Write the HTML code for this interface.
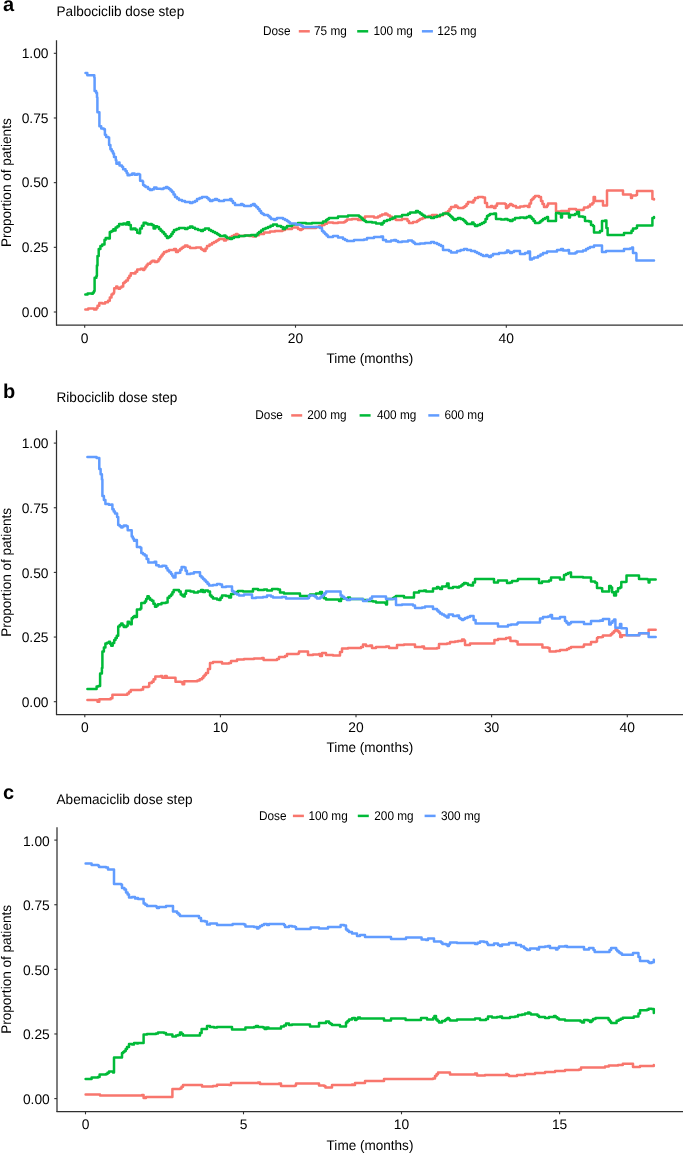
<!DOCTYPE html>
<html><head><meta charset="utf-8"><style>
html,body{margin:0;padding:0;background:#fff;width:685px;height:1153px;overflow:hidden}
svg{display:block;will-change:transform}
text{font-family:"Liberation Sans", sans-serif;fill:#000;text-rendering:geometricPrecision}
</style></head><body>
<svg width="685" height="1153" viewBox="0 0 685 1153">
<rect width="685" height="1153" fill="#fff"/>
<text x="3" y="11.2" font-size="20" font-weight="bold">a</text>
<text transform="translate(56.5,16.0) scale(1,1.03)" font-size="13.6">Palbociclib dose step</text>
<text transform="translate(263.00,34.90) scale(1,1.07)" font-size="11.8">Dose</text>
<line x1="298.8" x2="309.8" y1="31.3" y2="31.3" stroke="#F8766D" stroke-width="2.5"/>
<text transform="translate(314.00,35.10) scale(1,1.07)" font-size="11.8">75 mg</text>
<line x1="357.2" x2="368.2" y1="31.3" y2="31.3" stroke="#00BA38" stroke-width="2.5"/>
<text transform="translate(373.50,35.10) scale(1,1.07)" font-size="11.8">100 mg</text>
<line x1="421.9" x2="432.9" y1="31.3" y2="31.3" stroke="#619CFF" stroke-width="2.5"/>
<text transform="translate(437.30,35.10) scale(1,1.07)" font-size="11.8">125 mg</text>
<line x1="56.5" x2="56.5" y1="40.3" y2="325.5" stroke="#303030" stroke-width="1.25"/>
<line x1="56.0" x2="683.0" y1="325.0" y2="325.0" stroke="#303030" stroke-width="1.25"/>
<line x1="53.8" x2="56.5" y1="312.00" y2="312.00" stroke="#303030" stroke-width="1.1"/>
<text x="48.50" y="316.80" font-size="13.8" text-anchor="end">0.00</text>
<line x1="53.8" x2="56.5" y1="247.32" y2="247.32" stroke="#303030" stroke-width="1.1"/>
<text x="48.50" y="252.12" font-size="13.8" text-anchor="end">0.25</text>
<line x1="53.8" x2="56.5" y1="182.65" y2="182.65" stroke="#303030" stroke-width="1.1"/>
<text x="48.50" y="187.45" font-size="13.8" text-anchor="end">0.50</text>
<line x1="53.8" x2="56.5" y1="117.98" y2="117.98" stroke="#303030" stroke-width="1.1"/>
<text x="48.50" y="122.78" font-size="13.8" text-anchor="end">0.75</text>
<line x1="53.8" x2="56.5" y1="53.30" y2="53.30" stroke="#303030" stroke-width="1.1"/>
<text x="48.50" y="58.10" font-size="13.8" text-anchor="end">1.00</text>
<line x1="84.7" x2="84.7" y1="325.0" y2="327.7" stroke="#303030" stroke-width="1.1"/>
<text x="84.7" y="343.1" font-size="13.8" text-anchor="middle">0</text>
<line x1="295.5" x2="295.5" y1="325.0" y2="327.7" stroke="#303030" stroke-width="1.1"/>
<text x="295.5" y="343.1" font-size="13.8" text-anchor="middle">20</text>
<line x1="506.3" x2="506.3" y1="325.0" y2="327.7" stroke="#303030" stroke-width="1.1"/>
<text x="506.3" y="343.1" font-size="13.8" text-anchor="middle">40</text>
<text transform="translate(369.8,362.9) scale(1,1.03)" font-size="13.55" text-anchor="middle">Time (months)</text>
<text transform="translate(10.9,182.7) rotate(-90) scale(1,1.03)" x="0" y="0" font-size="13.55" text-anchor="middle">Proportion of patients</text>
<polyline points="85.30,309.50 88.20,309.50 88.20,308.40 91.70,308.40 91.70,308.60 94.00,308.60 94.00,309.50 96.40,309.50 96.40,308.00 97.50,308.00 97.50,305.70 99.30,305.70 99.30,303.00 102.20,303.00 102.20,303.40 105.10,303.40 105.10,302.20 108.00,302.20 108.00,300.70 109.80,300.70 109.80,297.50 111.50,297.50 111.50,294.60 112.70,294.60 112.70,293.45 113.90,293.45 113.90,292.30 114.20,292.30 114.20,288.20 116.20,288.20 116.20,286.40 117.35,286.40 117.35,287.60 118.50,287.60 118.50,288.80 120.00,288.80 120.00,287.60 121.50,287.60 121.50,286.40 123.20,286.40 123.20,282.90 124.65,282.90 124.65,281.75 126.10,281.75 126.10,280.60 127.90,280.60 127.90,278.00 129.35,278.00 129.35,275.65 130.80,275.65 130.80,273.30 133.70,273.30 133.70,273.60 135.50,273.60 135.50,271.80 137.20,271.80 137.20,269.50 140.70,269.50 140.70,268.70 143.10,268.70 143.10,270.10 144.25,270.10 144.25,268.45 145.40,268.45 145.40,266.80 146.55,266.80 146.55,265.25 147.70,265.25 147.70,263.70 150.10,263.70 150.10,262.50 151.25,262.50 151.25,261.60 152.40,261.60 152.40,260.70 154.70,260.70 154.70,261.90 157.10,261.90 157.10,261.30 158.55,261.30 158.55,259.25 160.00,259.25 160.00,257.20 161.33,257.20 161.33,255.47 162.67,255.47 162.67,253.73 164.00,253.73 164.00,252.00 166.50,252.00 166.50,251.00 169.00,251.00 169.00,250.00 174.00,250.00 174.00,249.00 176.00,249.00 176.00,252.00 178.00,252.00 178.00,250.50 180.00,250.50 180.00,249.00 181.67,249.00 181.67,247.87 183.33,247.87 183.33,246.73 185.00,246.73 185.00,245.60 187.50,245.60 187.50,246.80 190.00,246.80 190.00,248.00 196.00,248.00 196.00,247.60 201.00,247.60 201.00,249.00 202.50,249.00 202.50,250.00 204.00,250.00 204.00,251.00 205.50,251.00 205.50,248.50 207.00,248.50 207.00,246.00 209.50,246.00 209.50,244.50 212.00,244.50 212.00,243.00 214.00,243.00 214.00,242.00 216.00,242.00 216.00,241.00 217.50,241.00 217.50,240.00 219.00,240.00 219.00,239.00 224.00,239.00 224.00,240.40 226.00,240.40 226.00,239.20 228.00,239.20 228.00,238.00 230.00,238.00 230.00,237.00 232.00,237.00 232.00,236.00 234.00,236.00 234.00,235.00 236.00,235.00 236.00,234.00 237.50,234.00 237.50,235.00 239.00,235.00 239.00,236.00 244.00,236.00 244.00,235.60 249.00,235.60 249.00,236.00 253.00,236.00 253.00,236.40 256.00,236.40 256.00,235.20 259.00,235.20 259.00,234.00 264.00,234.00 264.00,232.40 270.00,232.40 270.00,231.60 275.00,231.60 275.00,231.00 280.00,231.00 280.00,231.00 282.50,231.00 282.50,230.00 285.00,230.00 285.00,229.00 292.00,229.00 292.00,227.50 298.00,227.50 298.00,229.00 300.00,229.00 300.00,230.00 301.50,230.00 301.50,229.00 303.00,229.00 303.00,228.00 310.00,228.00 310.00,228.00 316.00,228.00 316.00,227.00 319.00,227.00 319.00,226.00 322.00,226.00 322.00,225.00 324.50,225.00 324.50,223.70 327.00,223.70 327.00,222.40 333.00,222.40 333.00,223.00 338.00,223.00 338.00,222.40 344.00,222.40 344.00,222.00 345.50,222.00 345.50,220.80 347.00,220.80 347.00,219.60 352.00,219.60 352.00,219.00 358.00,219.00 358.00,220.00 362.00,220.00 362.00,219.60 363.50,219.60 363.50,218.00 365.00,218.00 365.00,216.40 370.00,216.40 370.00,216.40 374.00,216.40 374.00,217.60 378.00,217.60 378.00,216.40 380.00,216.40 380.00,215.40 382.00,215.40 382.00,214.40 385.00,214.40 385.00,213.60 386.50,213.60 386.50,214.60 388.00,214.60 388.00,215.60 390.00,215.60 390.00,216.80 392.00,216.80 392.00,218.00 394.00,218.00 394.00,219.00 396.00,219.00 396.00,220.00 402.00,220.00 402.00,219.00 406.00,219.00 406.00,219.00 407.50,219.00 407.50,221.00 409.00,221.00 409.00,223.00 413.00,223.00 413.00,222.00 417.00,222.00 417.00,221.00 418.50,221.00 418.50,220.00 420.00,220.00 420.00,219.00 422.50,219.00 422.50,218.00 425.00,218.00 425.00,217.00 428.50,217.00 428.50,216.00 432.00,216.00 432.00,215.00 437.00,215.00 437.00,216.40 440.00,216.40 440.00,215.20 443.00,215.20 443.00,214.00 445.50,214.00 445.50,212.50 448.00,212.50 448.00,211.00 449.50,211.00 449.50,209.00 451.00,209.00 451.00,207.00 455.00,207.00 455.00,205.60 456.50,205.60 456.50,206.80 458.00,206.80 458.00,208.00 462.00,208.00 462.00,208.00 463.50,208.00 463.50,207.00 465.00,207.00 465.00,206.00 466.50,206.00 466.50,204.00 468.00,204.00 468.00,202.00 472.00,202.00 472.00,202.40 473.50,202.40 473.50,200.20 475.00,200.20 475.00,198.00 478.00,198.00 478.00,197.00 483.00,197.00 483.00,197.60 485.00,197.60 485.00,203.00 487.00,203.00 487.00,207.00 491.00,207.00 491.00,206.00 492.50,206.00 492.50,207.00 494.00,207.00 494.00,208.00 495.50,208.00 495.50,205.80 497.00,205.80 497.00,203.60 501.00,203.60 501.00,203.60 505.00,203.60 505.00,204.00 506.00,204.00 506.00,208.00 507.33,208.00 507.33,206.67 508.67,206.67 508.67,205.33 510.00,205.33 510.00,204.00 511.50,204.00 511.50,205.00 513.00,205.00 513.00,206.00 516.00,206.00 516.00,207.60 520.00,207.60 520.00,206.60 524.00,206.60 524.00,206.00 528.00,206.00 528.00,207.00 529.50,207.00 529.50,203.50 531.00,203.50 531.00,200.00 532.33,200.00 532.33,198.67 533.67,198.67 533.67,197.33 535.00,197.33 535.00,196.00 539.00,196.00 539.00,197.00 541.00,197.00 541.00,201.00 542.50,201.00 542.50,204.00 544.00,204.00 544.00,207.00 547.00,207.00 547.00,205.60 548.00,205.60 548.00,203.60 554.00,203.60 554.00,203.60 556.00,203.60 556.00,211.60 560.00,211.60 560.00,211.60 561.00,211.60 561.00,211.00 567.00,211.00 567.00,211.60 569.00,211.60 569.00,209.00 574.00,209.00 574.00,209.00 576.00,209.00 576.00,210.00 583.00,210.00 583.00,209.60 584.00,209.60 584.00,207.60 588.00,207.60 588.00,206.40 590.00,206.40 590.00,204.40 592.40,204.40 592.40,203.00 593.60,203.00 593.60,197.00 595.00,197.00 595.00,201.00 601.60,201.00 601.60,201.00 603.00,201.00 603.00,205.60 606.00,205.60 606.00,205.60 607.00,205.60 607.00,190.40 622.00,190.40 622.00,190.40 623.00,190.40 623.00,194.40 629.00,194.40 629.00,194.40 631.00,194.40 631.00,198.00 632.00,198.00 632.00,195.60 636.00,195.60 636.00,195.00 637.00,195.00 637.00,191.00 651.60,191.00 651.60,191.00 652.40,191.00 652.40,199.00 654.00,199.00 654.00,199.60" fill="none" stroke="#F8766D" stroke-width="2.5" stroke-linejoin="round" stroke-linecap="round"/>
<polyline points="85.30,294.40 87.60,294.40 87.60,293.40 91.70,293.40 91.70,293.70 92.85,293.70 92.85,292.40 94.00,292.40 94.00,291.10 94.60,291.10 94.60,277.70 96.40,277.70 96.40,275.90 96.90,275.90 96.90,265.40 97.50,265.40 97.50,256.10 98.70,256.10 98.70,249.10 100.40,249.10 100.40,246.10 102.20,246.10 102.20,244.40 103.90,244.40 103.90,244.40 104.50,244.40 104.50,239.70 105.70,239.70 105.70,238.00 108.00,238.00 108.00,238.50 109.80,238.50 109.80,232.10 111.50,232.10 111.50,230.90 113.30,230.90 113.30,229.20 115.00,229.20 115.00,230.40 115.60,230.40 115.60,227.40 117.40,227.40 117.40,226.30 119.10,226.30 119.10,223.90 121.50,223.90 121.50,224.50 123.20,224.50 123.20,223.40 125.50,223.40 125.50,224.50 127.30,224.50 127.30,222.20 129.10,222.20 129.10,225.10 130.80,225.10 130.80,229.20 133.10,229.20 133.10,228.60 135.50,228.60 135.50,229.80 137.20,229.80 137.20,232.70 139.00,232.70 139.00,233.30 140.10,233.30 140.10,228.60 141.90,228.60 141.90,225.70 143.60,225.70 143.60,222.80 146.00,222.80 146.00,223.40 147.70,223.40 147.70,224.50 150.10,224.50 150.10,223.90 151.80,223.90 151.80,225.10 153.60,225.10 153.60,228.60 155.30,228.60 155.30,226.30 157.10,226.30 157.10,226.90 159.00,226.90 159.00,229.00 160.67,229.00 160.67,230.67 162.33,230.67 162.33,232.33 164.00,232.33 164.00,234.00 165.50,234.00 165.50,236.00 167.00,236.00 167.00,238.00 168.50,238.00 168.50,237.00 170.00,237.00 170.00,236.00 171.33,236.00 171.33,234.00 172.67,234.00 172.67,232.00 174.00,232.00 174.00,230.00 176.50,230.00 176.50,229.00 179.00,229.00 179.00,228.00 185.00,228.00 185.00,229.00 187.50,229.00 187.50,227.70 190.00,227.70 190.00,226.40 192.50,226.40 192.50,227.70 195.00,227.70 195.00,229.00 198.00,229.00 198.00,230.00 201.00,230.00 201.00,231.00 203.00,231.00 203.00,229.70 205.00,229.70 205.00,228.40 209.00,228.40 209.00,230.00 211.00,230.00 211.00,231.00 213.00,231.00 213.00,232.00 215.00,232.00 215.00,233.00 217.00,233.00 217.00,234.00 218.50,234.00 218.50,235.00 220.00,235.00 220.00,236.00 224.00,236.00 224.00,235.60 225.50,235.60 225.50,236.80 227.00,236.80 227.00,238.00 230.00,238.00 230.00,239.00 232.00,239.00 232.00,238.00 234.00,238.00 234.00,237.00 239.00,237.00 239.00,236.00 245.00,236.00 245.00,235.60 251.00,235.60 251.00,235.00 255.00,235.00 255.00,236.00 256.33,236.00 256.33,234.67 257.67,234.67 257.67,233.33 259.00,233.33 259.00,232.00 261.00,232.00 261.00,230.50 263.00,230.50 263.00,229.00 265.50,229.00 265.50,228.00 268.00,228.00 268.00,227.00 270.50,227.00 270.50,225.70 273.00,225.70 273.00,224.40 277.00,224.40 277.00,226.00 281.00,226.00 281.00,227.00 283.00,227.00 283.00,229.00 285.00,229.00 285.00,227.50 287.00,227.50 287.00,226.00 292.00,226.00 292.00,224.40 298.00,224.40 298.00,223.00 306.00,223.00 306.00,223.60 312.00,223.60 312.00,223.00 318.00,223.00 318.00,223.00 323.00,223.00 323.00,221.60 326.00,221.60 326.00,220.00 327.50,220.00 327.50,219.00 329.00,219.00 329.00,218.00 338.00,218.00 338.00,216.40 348.00,216.40 348.00,215.60 359.00,215.60 359.00,216.40 360.33,216.40 360.33,217.60 361.67,217.60 361.67,218.80 363.00,218.80 363.00,220.00 364.50,220.00 364.50,221.00 366.00,221.00 366.00,222.00 372.00,222.00 372.00,222.40 376.00,222.40 376.00,223.60 381.00,223.60 381.00,224.40 382.50,224.40 382.50,222.70 384.00,222.70 384.00,221.00 387.00,221.00 387.00,220.00 390.00,220.00 390.00,219.00 392.50,219.00 392.50,217.70 395.00,217.70 395.00,216.40 402.00,216.40 402.00,215.00 406.00,215.00 406.00,215.00 408.00,215.00 408.00,213.70 410.00,213.70 410.00,212.40 416.00,212.40 416.00,211.00 418.00,211.00 418.00,212.30 420.00,212.30 420.00,213.60 421.67,213.60 421.67,214.73 423.33,214.73 423.33,215.87 425.00,215.87 425.00,217.00 431.00,217.00 431.00,218.00 434.00,218.00 434.00,217.00 437.00,217.00 437.00,216.00 440.00,216.00 440.00,214.80 443.00,214.80 443.00,213.60 447.00,213.60 447.00,213.60 448.50,213.60 448.50,214.80 450.00,214.80 450.00,216.00 451.33,216.00 451.33,217.33 452.67,217.33 452.67,218.67 454.00,218.67 454.00,220.00 456.00,220.00 456.00,219.00 458.00,219.00 458.00,218.00 460.50,218.00 460.50,219.00 463.00,219.00 463.00,220.00 464.33,220.00 464.33,221.33 465.67,221.33 465.67,222.67 467.00,222.67 467.00,224.00 472.00,224.00 472.00,222.40 473.50,222.40 473.50,224.20 475.00,224.20 475.00,226.00 477.50,226.00 477.50,225.00 480.00,225.00 480.00,224.00 482.00,224.00 482.00,223.00 484.00,223.00 484.00,222.00 485.50,222.00 485.50,219.00 487.00,219.00 487.00,216.00 488.50,216.00 488.50,215.00 490.00,215.00 490.00,214.00 494.00,214.00 494.00,213.60 496.00,213.60 496.00,219.00 501.00,219.00 501.00,219.60 505.00,219.60 505.00,219.00 507.50,219.00 507.50,220.00 510.00,220.00 510.00,221.00 512.50,221.00 512.50,219.50 515.00,219.50 515.00,218.00 520.00,218.00 520.00,217.60 524.00,217.60 524.00,218.00 526.50,218.00 526.50,217.00 529.00,217.00 529.00,216.00 530.50,216.00 530.50,217.50 532.00,217.50 532.00,219.00 533.50,219.00 533.50,221.00 535.00,221.00 535.00,223.00 539.00,223.00 539.00,222.40 540.33,222.40 540.33,221.27 541.67,221.27 541.67,220.13 543.00,220.13 543.00,219.00 545.00,219.00 545.00,218.00 547.00,218.00 547.00,217.00 548.00,217.00 548.00,221.00 554.00,221.00 554.00,221.00 556.00,221.00 556.00,213.00 559.00,213.00 559.00,213.60 561.00,213.60 561.00,217.60 562.00,217.60 562.00,213.60 567.00,213.60 567.00,213.60 569.00,213.60 569.00,217.60 570.00,217.60 570.00,215.00 575.00,215.00 575.00,214.00 577.00,214.00 577.00,212.00 579.00,212.00 579.00,216.40 583.00,216.40 583.00,217.00 585.00,217.00 585.00,221.00 589.00,221.00 589.00,221.60 591.00,221.60 591.00,225.00 593.00,225.00 593.00,226.00 594.00,226.00 594.00,232.40 600.00,232.40 600.00,231.00 602.00,231.00 602.00,221.00 605.00,221.00 605.00,220.40 606.40,220.40 606.40,228.00 607.60,228.00 607.60,235.00 622.00,235.00 622.00,235.00 624.00,235.00 624.00,233.00 630.00,233.00 630.00,233.00 631.50,233.00 631.50,230.70 633.00,230.70 633.00,228.40 636.00,228.40 636.00,228.00 637.00,228.00 637.00,225.60 651.60,225.60 651.60,225.60 652.40,225.60 652.40,218.00 654.00,218.00 654.00,217.00" fill="none" stroke="#00BA38" stroke-width="2.5" stroke-linejoin="round" stroke-linecap="round"/>
<polyline points="85.50,73.10 87.30,73.10 87.30,75.20 92.10,75.20 92.10,75.20 94.30,75.20 94.30,77.60 94.60,77.60 94.60,91.00 96.10,91.00 96.10,92.80 97.00,92.80 97.00,97.60 97.40,97.60 97.40,112.20 99.40,112.20 99.40,126.20 101.20,126.20 101.20,128.60 103.70,128.60 103.70,129.20 104.90,129.20 104.90,134.70 106.10,134.70 106.10,137.10 108.20,137.10 108.20,137.50 109.10,137.50 109.10,145.00 110.40,145.00 110.40,149.20 111.70,149.20 111.70,151.35 113.00,151.35 113.00,153.50 114.00,153.50 114.00,157.10 115.80,157.10 115.80,160.20 116.40,160.20 116.40,163.80 118.80,163.80 118.80,162.60 119.50,162.60 119.50,165.60 121.90,165.60 121.90,166.80 123.10,166.80 123.10,169.30 125.50,169.30 125.50,171.10 126.70,171.10 126.70,172.90 127.60,172.90 127.60,175.30 129.80,175.30 129.80,174.70 132.20,174.70 132.20,173.50 134.60,173.50 134.60,174.70 137.10,174.70 137.10,174.10 139.20,174.10 139.20,174.40 140.10,174.40 140.10,180.80 142.50,180.80 142.50,181.40 143.10,181.40 143.10,185.00 144.35,185.00 144.35,185.95 145.60,185.95 145.60,186.90 148.00,186.90 148.00,188.70 149.80,188.70 149.80,190.10 152.20,190.10 152.20,189.30 154.10,189.30 154.10,187.50 156.50,187.50 156.50,188.70 161.00,188.70 161.00,189.00 163.50,189.00 163.50,188.00 166.00,188.00 166.00,187.00 167.50,187.00 167.50,188.00 169.00,188.00 169.00,189.00 170.50,189.00 170.50,190.50 172.00,190.50 172.00,192.00 173.50,192.00 173.50,194.50 175.00,194.50 175.00,197.00 177.00,197.00 177.00,198.50 179.00,198.50 179.00,200.00 182.00,200.00 182.00,201.00 185.00,201.00 185.00,202.00 190.00,202.00 190.00,203.00 192.50,203.00 192.50,202.00 195.00,202.00 195.00,201.00 197.00,201.00 197.00,199.00 199.50,199.00 199.50,198.00 202.00,198.00 202.00,197.00 207.00,197.00 207.00,198.00 208.50,198.00 208.50,199.50 210.00,199.50 210.00,201.00 212.50,201.00 212.50,200.00 215.00,200.00 215.00,199.00 217.00,199.00 217.00,200.00 219.00,200.00 219.00,201.00 224.00,201.00 224.00,200.00 230.00,200.00 230.00,199.00 231.50,199.00 231.50,201.00 233.00,201.00 233.00,203.00 235.00,203.00 235.00,205.00 241.00,205.00 241.00,204.00 242.50,204.00 242.50,205.00 244.00,205.00 244.00,206.00 249.00,206.00 249.00,206.00 251.00,206.00 251.00,205.00 253.00,205.00 253.00,204.00 254.67,204.00 254.67,205.67 256.33,205.67 256.33,207.33 258.00,207.33 258.00,209.00 259.50,209.00 259.50,211.00 261.00,211.00 261.00,213.00 262.50,213.00 262.50,214.00 264.00,214.00 264.00,215.00 268.00,215.00 268.00,216.00 269.50,216.00 269.50,217.50 271.00,217.50 271.00,219.00 274.00,219.00 274.00,220.00 275.50,220.00 275.50,219.00 277.00,219.00 277.00,218.00 283.00,218.00 283.00,219.00 285.00,219.00 285.00,220.00 287.00,220.00 287.00,221.00 288.50,221.00 288.50,222.30 290.00,222.30 290.00,223.60 296.00,223.60 296.00,224.40 300.00,224.40 300.00,225.00 301.50,225.00 301.50,226.00 303.00,226.00 303.00,227.00 310.00,227.00 310.00,227.00 315.00,227.00 315.00,227.00 320.00,227.00 320.00,228.00 322.00,228.00 322.00,231.00 323.50,231.00 323.50,232.50 325.00,232.50 325.00,234.00 326.50,234.00 326.50,235.50 328.00,235.50 328.00,237.00 333.00,237.00 333.00,236.00 338.00,236.00 338.00,237.60 343.00,237.60 343.00,239.00 345.00,239.00 345.00,240.00 347.00,240.00 347.00,241.00 354.00,241.00 354.00,240.00 359.00,240.00 359.00,240.00 364.00,240.00 364.00,239.60 367.00,239.60 367.00,238.00 374.00,238.00 374.00,237.00 381.00,237.00 381.00,236.40 383.00,236.40 383.00,240.00 386.00,240.00 386.00,241.60 391.00,241.60 391.00,240.40 394.00,240.40 394.00,240.00 396.00,240.00 396.00,241.00 398.00,241.00 398.00,242.00 402.00,242.00 402.00,241.60 408.00,241.60 408.00,240.40 412.00,240.40 412.00,241.60 413.50,241.60 413.50,242.80 415.00,242.80 415.00,244.00 420.00,244.00 420.00,243.60 425.00,243.60 425.00,243.00 431.00,243.00 431.00,242.00 434.00,242.00 434.00,243.00 437.00,243.00 437.00,244.00 439.00,244.00 439.00,245.00 441.00,245.00 441.00,246.00 443.00,246.00 443.00,250.00 449.00,250.00 449.00,251.00 451.00,251.00 451.00,252.40 457.00,252.40 457.00,251.00 460.50,251.00 460.50,250.00 464.00,250.00 464.00,249.00 467.00,249.00 467.00,250.00 471.00,250.00 471.00,251.00 475.00,251.00 475.00,252.00 477.00,252.00 477.00,253.00 479.00,253.00 479.00,254.00 481.00,254.00 481.00,255.00 483.00,255.00 483.00,256.00 486.00,256.00 486.00,255.00 487.50,255.00 487.50,256.00 489.00,256.00 489.00,257.00 491.00,257.00 491.00,255.50 493.00,255.50 493.00,254.00 499.00,254.00 499.00,253.00 505.00,253.00 505.00,252.40 507.00,252.40 507.00,250.40 508.50,250.40 508.50,251.70 510.00,251.70 510.00,253.00 512.00,253.00 512.00,252.00 514.00,252.00 514.00,251.00 518.00,251.00 518.00,251.00 520.00,251.00 520.00,254.00 525.00,254.00 525.00,253.00 528.00,253.00 528.00,251.60 530.00,251.60 530.00,259.60 532.00,259.60 532.00,258.60 534.00,258.60 534.00,257.60 538.00,257.60 538.00,256.00 540.50,256.00 540.50,254.50 543.00,254.50 543.00,253.00 547.00,253.00 547.00,251.60 555.00,251.60 555.00,251.60 557.00,251.60 557.00,250.00 561.00,250.00 561.00,249.00 563.00,249.00 563.00,250.40 568.00,250.40 568.00,250.00 569.00,250.00 569.00,253.60 574.00,253.60 574.00,253.60 575.50,253.60 575.50,252.60 577.00,252.60 577.00,251.60 583.00,251.60 583.00,250.40 586.00,250.40 586.00,249.00 588.00,249.00 588.00,248.00 590.00,248.00 590.00,247.00 594.00,247.00 594.00,245.60 601.00,245.60 601.00,245.60 602.00,245.60 602.00,252.00 606.00,252.00 606.00,251.00 622.00,251.00 622.00,251.00 624.00,251.00 624.00,249.00 630.00,249.00 630.00,248.40 632.00,248.40 632.00,247.60 633.00,247.60 633.00,253.00 636.00,253.00 636.00,253.60 636.40,253.60 636.40,260.40 654.00,260.40 654.00,260.40" fill="none" stroke="#619CFF" stroke-width="2.5" stroke-linejoin="round" stroke-linecap="round"/>
<text x="3" y="398.0" font-size="20" font-weight="bold">b</text>
<text transform="translate(56.5,402.4) scale(1,1.03)" font-size="13.6">Ribociclib dose step</text>
<text transform="translate(255.30,419.00) scale(1,1.07)" font-size="11.8">Dose</text>
<line x1="291.2" x2="302.2" y1="415.4" y2="415.4" stroke="#F8766D" stroke-width="2.5"/>
<text transform="translate(307.20,419.20) scale(1,1.07)" font-size="11.8">200 mg</text>
<line x1="359.6" x2="370.6" y1="415.4" y2="415.4" stroke="#00BA38" stroke-width="2.5"/>
<text transform="translate(377.00,419.20) scale(1,1.07)" font-size="11.8">400 mg</text>
<line x1="428.3" x2="439.3" y1="415.4" y2="415.4" stroke="#619CFF" stroke-width="2.5"/>
<text transform="translate(444.40,419.20) scale(1,1.07)" font-size="11.8">600 mg</text>
<line x1="56.5" x2="56.5" y1="430.3" y2="715.0" stroke="#303030" stroke-width="1.25"/>
<line x1="56.0" x2="683.0" y1="714.5" y2="714.5" stroke="#303030" stroke-width="1.25"/>
<line x1="53.8" x2="56.5" y1="701.70" y2="701.70" stroke="#303030" stroke-width="1.1"/>
<text x="48.50" y="706.80" font-size="13.8" text-anchor="end">0.00</text>
<line x1="53.8" x2="56.5" y1="637.05" y2="637.05" stroke="#303030" stroke-width="1.1"/>
<text x="48.50" y="642.15" font-size="13.8" text-anchor="end">0.25</text>
<line x1="53.8" x2="56.5" y1="572.40" y2="572.40" stroke="#303030" stroke-width="1.1"/>
<text x="48.50" y="577.50" font-size="13.8" text-anchor="end">0.50</text>
<line x1="53.8" x2="56.5" y1="507.75" y2="507.75" stroke="#303030" stroke-width="1.1"/>
<text x="48.50" y="512.85" font-size="13.8" text-anchor="end">0.75</text>
<line x1="53.8" x2="56.5" y1="443.10" y2="443.10" stroke="#303030" stroke-width="1.1"/>
<text x="48.50" y="448.20" font-size="13.8" text-anchor="end">1.00</text>
<line x1="84.8" x2="84.8" y1="714.5" y2="717.2" stroke="#303030" stroke-width="1.1"/>
<text x="84.8" y="732.1" font-size="13.8" text-anchor="middle">0</text>
<line x1="220.4" x2="220.4" y1="714.5" y2="717.2" stroke="#303030" stroke-width="1.1"/>
<text x="220.4" y="732.1" font-size="13.8" text-anchor="middle">10</text>
<line x1="356.0" x2="356.0" y1="714.5" y2="717.2" stroke="#303030" stroke-width="1.1"/>
<text x="356.0" y="732.1" font-size="13.8" text-anchor="middle">20</text>
<line x1="491.6" x2="491.6" y1="714.5" y2="717.2" stroke="#303030" stroke-width="1.1"/>
<text x="491.6" y="732.1" font-size="13.8" text-anchor="middle">30</text>
<line x1="627.3" x2="627.3" y1="714.5" y2="717.2" stroke="#303030" stroke-width="1.1"/>
<text x="627.3" y="732.1" font-size="13.8" text-anchor="middle">40</text>
<text transform="translate(369.8,751.6) scale(1,1.03)" font-size="13.55" text-anchor="middle">Time (months)</text>
<text transform="translate(10.9,572.4) rotate(-90) scale(1,1.03)" x="0" y="0" font-size="13.55" text-anchor="middle">Proportion of patients</text>
<polyline points="87.40,700.00 95.80,700.00 95.80,700.00 97.50,700.00 97.50,701.70 99.30,701.70 99.30,699.30 110.70,699.30 110.70,698.20 112.40,698.20 112.40,694.70 127.30,694.70 127.30,693.50 129.05,693.50 129.05,691.75 130.80,691.75 130.80,690.00 141.30,690.00 141.30,689.50 143.10,689.50 143.10,687.00 148.30,687.00 148.30,686.50 149.20,686.50 149.20,683.00 151.80,683.00 151.80,681.80 153.55,681.80 153.55,679.15 155.30,679.15 155.30,676.50 160.60,676.50 160.60,676.00 162.30,676.00 162.30,677.70 165.00,677.70 165.00,676.00 166.70,676.00 166.70,677.70 173.70,677.70 173.70,677.70 175.50,677.70 175.50,681.80 180.70,681.80 180.70,682.10 182.50,682.10 182.50,684.20 184.20,684.20 184.20,681.20 197.40,681.20 197.40,680.40 199.70,680.40 199.70,679.20 202.00,679.20 202.00,678.00 203.33,678.00 203.33,676.33 204.67,676.33 204.67,674.67 206.00,674.67 206.00,673.00 208.00,673.00 208.00,669.00 210.00,669.00 210.00,663.00 213.00,663.00 213.00,662.00 220.00,662.00 220.00,662.00 222.00,662.00 222.00,663.60 229.00,663.60 229.00,663.00 231.00,663.00 231.00,661.00 237.00,661.00 237.00,659.60 244.00,659.60 244.00,659.00 254.00,659.00 254.00,658.40 262.00,658.40 262.00,658.00 263.60,658.00 263.60,660.00 277.00,660.00 277.00,659.00 279.00,659.00 279.00,657.00 285.00,657.00 285.00,656.00 287.00,656.00 287.00,654.00 298.00,654.00 298.00,653.60 299.00,653.60 299.00,651.60 307.00,651.60 307.00,651.60 308.00,651.60 308.00,655.00 313.00,655.00 313.00,654.40 319.00,654.40 319.00,654.00 320.00,654.00 320.00,656.00 322.00,656.00 322.00,653.00 325.00,653.00 325.00,653.00 326.00,653.00 326.00,655.00 333.00,655.00 333.00,655.60 338.00,655.60 338.00,655.60 340.00,655.60 340.00,652.00 342.00,652.00 342.00,648.40 348.00,648.40 348.00,648.00 361.00,648.00 361.00,647.00 363.00,647.00 363.00,644.40 366.00,644.40 366.00,646.00 370.00,646.00 370.00,645.60 372.00,645.60 372.00,648.00 376.00,648.00 376.00,647.00 386.00,647.00 386.00,646.40 389.00,646.40 389.00,648.00 396.00,648.00 396.00,648.00 397.00,648.00 397.00,645.00 404.00,645.00 404.00,644.40 413.00,644.40 413.00,644.40 415.00,644.40 415.00,647.00 422.00,647.00 422.00,646.40 424.00,646.40 424.00,648.40 437.00,648.40 437.00,648.00 439.00,648.00 439.00,644.00 447.00,644.00 447.00,643.60 450.00,643.60 450.00,642.00 455.00,642.00 455.00,641.60 458.00,641.60 458.00,641.00 462.00,641.00 462.00,639.60 464.00,639.60 464.00,640.40 465.00,640.40 465.00,645.00 470.00,645.00 470.00,643.60 493.00,643.60 493.00,643.60 494.40,643.60 494.40,640.00 498.00,640.00 498.00,639.00 506.00,639.00 506.00,638.00 509.00,638.00 509.00,637.60 510.40,637.60 510.40,641.00 516.00,641.00 516.00,641.60 517.60,641.60 517.60,644.40 541.00,644.40 541.00,644.40 542.40,644.40 542.40,647.60 548.00,647.60 548.00,648.00 549.60,648.00 549.60,651.60 556.00,651.60 556.00,651.00 560.00,651.00 560.00,650.00 567.00,650.00 567.00,649.00 569.00,649.00 569.00,648.00 571.00,648.00 571.00,647.00 583.00,647.00 583.00,646.40 584.00,646.40 584.00,644.40 590.00,644.40 590.00,644.40 591.00,644.40 591.00,642.00 596.00,642.00 596.00,641.60 597.00,641.60 597.00,638.00 597.90,638.00 597.90,637.30 601.60,637.30 601.60,636.90 602.90,636.90 602.90,635.50 608.10,635.50 608.10,635.50 610.80,635.50 610.80,634.20 612.33,634.20 612.33,632.67 613.87,632.67 613.87,631.13 615.40,631.13 615.40,629.60 616.70,629.60 616.70,630.60 618.00,630.60 618.00,631.60 619.30,631.60 619.30,632.90 620.20,632.90 620.20,636.90 621.90,636.90 621.90,635.20 638.60,635.20 638.60,635.20 639.00,635.20 639.00,633.30 648.00,633.30 648.00,633.30 648.60,633.30 648.60,629.80 655.70,629.80 655.70,629.80" fill="none" stroke="#F8766D" stroke-width="2.5" stroke-linejoin="round" stroke-linecap="round"/>
<polyline points="87.40,689.10 94.90,689.10 94.90,689.10 96.60,689.10 96.60,686.50 98.40,686.50 98.40,686.00 100.10,686.00 100.10,673.40 101.90,673.40 101.90,668.10 102.40,668.10 102.40,651.50 103.90,651.50 103.90,647.55 105.40,647.55 105.40,643.60 107.15,643.60 107.15,642.70 108.90,642.70 108.90,641.80 110.05,641.80 110.05,643.75 111.20,643.75 111.20,645.70 112.70,645.70 112.70,642.90 114.20,642.90 114.20,640.10 115.50,640.10 115.50,637.90 116.80,637.90 116.80,635.70 118.20,635.70 118.20,626.40 119.70,626.40 119.70,624.90 121.20,624.90 121.20,623.40 122.50,623.40 122.50,625.15 123.80,625.15 123.80,626.90 126.40,626.90 126.40,625.70 127.70,625.70 127.70,621.70 129.10,621.70 129.10,623.00 130.50,623.00 130.50,624.30 131.70,624.30 131.70,618.20 133.00,618.20 133.00,617.05 134.30,617.05 134.30,615.90 136.10,615.90 136.10,617.00 136.90,617.00 136.90,609.40 140.40,609.40 140.40,608.50 141.30,608.50 141.30,602.90 144.80,602.90 144.80,601.50 146.10,601.50 146.10,598.90 147.40,598.90 147.40,596.30 148.75,596.30 148.75,598.05 150.10,598.05 150.10,599.80 151.80,599.80 151.80,600.70 153.40,600.70 153.40,603.75 155.00,603.75 155.00,606.80 156.50,606.80 156.50,605.50 158.00,605.50 158.00,604.20 161.50,604.20 161.50,602.90 165.80,602.90 165.80,602.40 167.60,602.40 167.60,597.70 169.35,597.70 169.35,596.10 171.10,596.10 171.10,594.50 172.40,594.50 172.40,592.30 173.70,592.30 173.70,590.10 179.00,590.10 179.00,591.40 180.70,591.40 180.70,594.50 182.05,594.50 182.05,595.55 183.40,595.55 183.40,596.60 184.70,596.60 184.70,593.65 186.00,593.65 186.00,590.70 190.40,590.70 190.40,591.40 193.90,591.40 193.90,592.40 198.00,592.40 198.00,591.60 201.00,591.60 201.00,590.00 203.00,590.00 203.00,592.00 205.00,592.00 205.00,590.40 208.00,590.40 208.00,591.60 210.00,591.60 210.00,595.60 211.50,595.60 211.50,597.00 213.00,597.00 213.00,598.40 217.00,598.40 217.00,599.60 219.00,599.60 219.00,600.00 220.50,600.00 220.50,597.80 222.00,597.80 222.00,595.60 226.00,595.60 226.00,596.00 229.00,596.00 229.00,597.60 231.00,597.60 231.00,594.00 234.00,594.00 234.00,593.00 236.00,593.00 236.00,592.00 238.00,592.00 238.00,591.00 243.00,591.00 243.00,591.60 251.00,591.60 251.00,591.60 253.00,591.60 253.00,589.00 258.00,589.00 258.00,590.00 264.00,590.00 264.00,589.60 267.00,589.60 267.00,590.40 272.00,590.40 272.00,589.00 278.00,589.00 278.00,589.60 280.00,589.60 280.00,592.40 284.00,592.40 284.00,593.60 298.00,593.60 298.00,593.60 300.00,593.60 300.00,596.00 307.00,596.00 307.00,596.00 310.00,596.00 310.00,594.40 316.00,594.40 316.00,593.60 320.00,593.60 320.00,592.00 322.00,592.00 322.00,597.00 324.00,597.00 324.00,598.30 326.00,598.30 326.00,599.60 339.00,599.60 339.00,601.00 341.00,601.00 341.00,598.40 348.00,598.40 348.00,597.60 350.00,597.60 350.00,599.00 361.00,599.00 361.00,599.00 363.00,599.00 363.00,600.00 368.00,600.00 368.00,601.00 373.00,601.00 373.00,601.60 376.00,601.60 376.00,602.40 385.00,602.40 385.00,603.00 386.00,603.00 386.00,604.40 387.00,604.40 387.00,599.00 393.00,599.00 393.00,598.00 394.50,598.00 394.50,597.00 396.00,597.00 396.00,596.00 402.00,596.00 402.00,596.00 404.00,596.00 404.00,597.60 412.00,597.60 412.00,597.60 414.00,597.60 414.00,592.40 419.00,592.40 419.00,591.00 424.00,591.00 424.00,590.40 426.00,590.40 426.00,591.60 431.00,591.60 431.00,591.60 433.00,591.60 433.00,588.40 437.00,588.40 437.00,587.00 438.50,587.00 438.50,588.00 440.00,588.00 440.00,589.00 442.00,589.00 442.00,586.40 446.00,586.40 446.00,586.00 447.00,586.00 447.00,583.60 448.60,583.60 448.60,588.00 453.00,588.00 453.00,587.00 457.00,587.00 457.00,587.60 459.00,587.60 459.00,586.60 461.00,586.60 461.00,585.60 462.50,585.60 462.50,584.30 464.00,584.30 464.00,583.00 466.00,583.00 466.00,583.60 468.00,583.60 468.00,585.00 471.00,585.00 471.00,585.60 473.00,585.60 473.00,582.40 475.00,582.40 475.00,579.00 493.00,579.00 493.00,579.00 494.00,579.00 494.00,582.40 497.00,582.40 497.00,582.40 498.00,582.40 498.00,580.40 505.00,580.40 505.00,580.40 507.00,580.40 507.00,583.00 510.00,583.00 510.00,582.40 512.00,582.40 512.00,581.00 517.00,581.00 517.00,580.40 518.00,580.40 518.00,579.00 538.00,579.00 538.00,579.00 539.00,579.00 539.00,583.00 542.00,583.00 542.00,581.60 549.00,581.60 549.00,580.40 551.00,580.40 551.00,577.60 559.00,577.60 559.00,577.60 560.00,577.60 560.00,579.60 563.60,579.60 563.60,579.60 564.00,579.60 564.00,575.00 566.00,575.00 566.00,574.00 568.00,574.00 568.00,573.00 570.00,573.00 570.00,572.40 571.00,572.40 571.00,577.00 583.00,577.00 583.00,577.60 590.00,577.60 590.00,577.60 591.00,577.60 591.00,581.60 595.00,581.60 595.00,582.60 596.30,582.60 596.30,583.00 597.00,583.00 597.00,587.90 600.90,587.90 600.90,588.20 602.20,588.20 602.20,591.50 608.10,591.50 608.10,591.50 609.20,591.50 609.20,586.00 610.80,586.00 610.80,587.60 612.10,587.60 612.10,592.20 614.10,592.20 614.10,595.50 616.00,595.50 616.00,591.50 618.00,591.50 618.00,588.20 620.00,588.20 620.00,587.60 621.30,587.60 621.30,582.10 625.90,582.10 625.90,581.70 626.50,581.70 626.50,575.50 638.40,575.50 638.40,575.50 639.00,575.50 639.00,579.10 647.60,579.10 647.60,579.40 648.60,579.40 648.60,582.60 649.50,582.60 649.50,579.40 655.70,579.40 655.70,579.40" fill="none" stroke="#00BA38" stroke-width="2.5" stroke-linejoin="round" stroke-linecap="round"/>
<polyline points="87.40,457.00 94.00,457.00 94.00,457.00 96.60,457.00 96.60,457.90 98.40,457.90 98.40,457.90 99.30,457.90 99.30,468.90 100.60,468.90 100.60,474.15 101.90,474.15 101.90,479.40 102.40,479.40 102.40,496.10 103.90,496.10 103.90,500.00 105.40,500.00 105.40,503.90 108.90,503.90 108.90,504.80 111.20,504.80 111.20,504.50 112.40,504.50 112.40,509.20 113.70,509.20 113.70,511.40 115.00,511.40 115.00,513.60 117.10,513.60 117.10,517.10 118.20,517.10 118.20,525.00 119.70,525.00 119.70,526.30 121.20,526.30 121.20,527.60 122.50,527.60 122.50,526.55 123.80,526.55 123.80,525.50 126.40,525.50 126.40,526.20 127.70,526.20 127.70,530.20 130.50,530.20 130.50,530.20 131.70,530.20 131.70,536.40 132.85,536.40 132.85,538.55 134.00,538.55 134.00,540.70 136.10,540.70 136.10,539.90 136.90,539.90 136.90,546.90 140.40,546.90 140.40,547.70 141.30,547.70 141.30,553.00 143.05,553.00 143.05,554.30 144.80,554.30 144.80,555.60 146.60,555.60 146.60,559.10 148.30,559.10 148.30,562.60 151.80,562.60 151.80,562.60 154.50,562.60 154.50,561.80 156.20,561.80 156.20,565.30 158.80,565.30 158.80,566.50 162.30,566.50 162.30,565.80 165.00,565.80 165.00,566.10 166.30,566.10 166.30,568.30 167.60,568.30 167.60,570.50 169.35,570.50 169.35,572.25 171.10,572.25 171.10,574.00 172.25,574.00 172.25,575.75 173.40,575.75 173.40,577.50 175.50,577.50 175.50,573.10 179.00,573.10 179.00,572.80 180.30,572.80 180.30,569.90 181.60,569.90 181.60,567.00 184.20,567.00 184.20,567.50 185.55,567.50 185.55,570.75 186.90,570.75 186.90,574.00 190.40,574.00 190.40,573.50 193.90,573.50 193.90,572.30 198.30,572.30 198.30,572.30 200.00,572.30 200.00,576.00 201.50,576.00 201.50,577.50 203.00,577.50 203.00,579.00 204.50,579.00 204.50,580.50 206.00,580.50 206.00,582.00 207.50,582.00 207.50,583.80 209.00,583.80 209.00,585.60 213.00,585.60 213.00,585.00 217.00,585.00 217.00,584.00 220.00,584.00 220.00,584.40 222.00,584.40 222.00,587.00 226.00,587.00 226.00,586.40 230.00,586.40 230.00,586.40 232.00,586.40 232.00,591.00 233.50,591.00 233.50,592.30 235.00,592.30 235.00,593.60 237.00,593.60 237.00,594.60 239.00,594.60 239.00,595.60 244.00,595.60 244.00,594.40 251.00,594.40 251.00,594.40 252.00,594.40 252.00,598.00 256.00,598.00 256.00,597.60 263.00,597.60 263.00,597.00 267.00,597.00 267.00,595.60 271.00,595.60 271.00,596.40 273.00,596.40 273.00,597.60 282.00,597.60 282.00,597.00 286.00,597.00 286.00,598.40 290.00,598.40 290.00,598.40 298.00,598.40 298.00,598.40 308.00,598.40 308.00,598.00 309.00,598.00 309.00,595.60 314.00,595.60 314.00,596.00 315.50,596.00 315.50,597.20 317.00,597.20 317.00,598.40 320.00,598.40 320.00,597.60 321.50,597.60 321.50,596.30 323.00,596.30 323.00,595.00 324.50,595.00 324.50,593.30 326.00,593.30 326.00,591.60 339.00,591.60 339.00,591.60 340.60,591.60 340.60,595.60 342.30,595.60 342.30,596.80 344.00,596.80 344.00,598.00 345.50,598.00 345.50,599.00 347.00,599.00 347.00,600.00 350.00,600.00 350.00,599.00 361.00,599.00 361.00,599.00 363.00,599.00 363.00,601.00 367.00,601.00 367.00,600.00 370.00,600.00 370.00,598.40 372.00,598.40 372.00,596.40 377.00,596.40 377.00,596.40 385.00,596.40 385.00,596.40 386.00,596.40 386.00,599.00 388.00,599.00 388.00,599.00 395.00,599.00 395.00,598.40 396.00,598.40 396.00,605.00 402.00,605.00 402.00,604.40 408.00,604.40 408.00,604.40 413.00,604.40 413.00,605.60 415.00,605.60 415.00,608.00 422.00,608.00 422.00,607.60 425.00,607.60 425.00,606.40 431.00,606.40 431.00,606.40 433.00,606.40 433.00,609.00 437.00,609.00 437.00,610.40 438.50,610.40 438.50,612.00 440.00,612.00 440.00,613.60 442.00,613.60 442.00,614.60 444.00,614.60 444.00,615.60 445.50,615.60 445.50,616.60 447.00,616.60 447.00,617.60 448.60,617.60 448.60,614.40 453.00,614.40 453.00,616.00 457.00,616.00 457.00,615.60 459.00,615.60 459.00,618.00 460.50,618.00 460.50,619.00 462.00,619.00 462.00,620.00 463.50,620.00 463.50,619.00 465.00,619.00 465.00,618.00 467.50,618.00 467.50,617.00 470.00,617.00 470.00,616.00 472.00,616.00 472.00,616.00 473.60,616.00 473.60,620.00 475.60,620.00 475.60,623.60 497.00,623.60 497.00,623.60 498.00,623.60 498.00,626.40 506.00,626.40 506.00,626.40 508.00,626.40 508.00,625.00 511.00,625.00 511.00,624.40 517.00,624.40 517.00,623.60 518.00,623.60 518.00,622.40 539.00,622.40 539.00,622.40 540.00,622.40 540.00,618.40 543.00,618.40 543.00,617.00 548.00,617.00 548.00,616.40 550.40,616.40 550.40,615.00 552.00,615.00 552.00,618.40 558.00,618.40 558.00,618.40 560.00,618.40 560.00,617.00 563.60,617.00 563.60,617.00 565.00,617.00 565.00,621.00 566.50,621.00 566.50,622.70 568.00,622.70 568.00,624.40 569.50,624.40 569.50,623.20 571.00,623.20 571.00,622.00 583.00,622.00 583.00,622.00 584.00,622.00 584.00,624.00 590.00,624.00 590.00,624.00 591.00,624.00 591.00,621.00 600.00,621.00 600.00,620.40 601.60,620.40 601.60,620.70 602.90,620.70 602.90,618.90 608.10,618.90 608.10,618.90 609.20,618.90 609.20,624.40 610.80,624.40 610.80,622.80 612.45,622.80 612.45,621.10 614.10,621.10 614.10,619.40 615.40,619.40 615.40,627.70 618.00,627.70 618.00,627.70 620.00,627.70 620.00,624.10 621.30,624.10 621.30,628.30 626.30,628.30 626.30,628.60 626.80,628.60 626.80,635.20 637.70,635.20 637.70,635.20 639.40,635.20 639.40,633.30 647.60,633.30 647.60,633.30 648.60,633.30 648.60,636.90 655.70,636.90 655.70,636.90" fill="none" stroke="#619CFF" stroke-width="2.5" stroke-linejoin="round" stroke-linecap="round"/>
<text x="3" y="799.4" font-size="20" font-weight="bold">c</text>
<text transform="translate(56.5,803.6) scale(1,1.03)" font-size="13.6">Abemaciclib dose step</text>
<text transform="translate(259.00,819.50) scale(1,1.07)" font-size="11.8">Dose</text>
<line x1="292.9" x2="303.9" y1="815.9" y2="815.9" stroke="#F8766D" stroke-width="2.5"/>
<text transform="translate(308.40,819.70) scale(1,1.07)" font-size="11.8">100 mg</text>
<line x1="357.8" x2="368.8" y1="815.9" y2="815.9" stroke="#00BA38" stroke-width="2.5"/>
<text transform="translate(374.30,819.70) scale(1,1.07)" font-size="11.8">200 mg</text>
<line x1="424.6" x2="435.6" y1="815.9" y2="815.9" stroke="#619CFF" stroke-width="2.5"/>
<text transform="translate(441.00,819.70) scale(1,1.07)" font-size="11.8">300 mg</text>
<line x1="57.0" x2="57.0" y1="827.2" y2="1112.1" stroke="#303030" stroke-width="1.25"/>
<line x1="56.5" x2="683.0" y1="1111.6" y2="1111.6" stroke="#303030" stroke-width="1.25"/>
<line x1="54.3" x2="57.0" y1="1098.60" y2="1098.60" stroke="#303030" stroke-width="1.1"/>
<text x="49.80" y="1104.00" font-size="13.8" text-anchor="end">0.00</text>
<line x1="54.3" x2="57.0" y1="1033.97" y2="1033.97" stroke="#303030" stroke-width="1.1"/>
<text x="49.80" y="1039.37" font-size="13.8" text-anchor="end">0.25</text>
<line x1="54.3" x2="57.0" y1="969.35" y2="969.35" stroke="#303030" stroke-width="1.1"/>
<text x="49.80" y="974.75" font-size="13.8" text-anchor="end">0.50</text>
<line x1="54.3" x2="57.0" y1="904.73" y2="904.73" stroke="#303030" stroke-width="1.1"/>
<text x="49.80" y="910.12" font-size="13.8" text-anchor="end">0.75</text>
<line x1="54.3" x2="57.0" y1="840.10" y2="840.10" stroke="#303030" stroke-width="1.1"/>
<text x="49.80" y="845.50" font-size="13.8" text-anchor="end">1.00</text>
<line x1="85.5" x2="85.5" y1="1111.6" y2="1114.3" stroke="#303030" stroke-width="1.1"/>
<text x="85.5" y="1129.4" font-size="13.8" text-anchor="middle">0</text>
<line x1="243.5" x2="243.5" y1="1111.6" y2="1114.3" stroke="#303030" stroke-width="1.1"/>
<text x="243.5" y="1129.4" font-size="13.8" text-anchor="middle">5</text>
<line x1="401.5" x2="401.5" y1="1111.6" y2="1114.3" stroke="#303030" stroke-width="1.1"/>
<text x="401.5" y="1129.4" font-size="13.8" text-anchor="middle">10</text>
<line x1="559.6" x2="559.6" y1="1111.6" y2="1114.3" stroke="#303030" stroke-width="1.1"/>
<text x="559.6" y="1129.4" font-size="13.8" text-anchor="middle">15</text>
<text transform="translate(370.0,1149.5) scale(1,1.03)" font-size="13.55" text-anchor="middle">Time (months)</text>
<text transform="translate(10.9,969.4) rotate(-90) scale(1,1.03)" x="0" y="0" font-size="13.55" text-anchor="middle">Proportion of patients</text>
<polyline points="85.60,1094.40 98.00,1094.40 98.00,1094.40 100.00,1094.40 100.00,1095.60 114.00,1095.60 114.00,1095.60 142.00,1095.60 142.00,1095.00 143.60,1095.00 143.60,1098.00 146.00,1098.00 146.00,1097.00 172.00,1097.00 172.00,1097.00 172.40,1097.00 172.40,1089.00 180.00,1089.00 180.00,1088.40 181.50,1088.40 181.50,1086.70 183.00,1086.70 183.00,1085.00 200.00,1085.00 200.00,1085.00 202.00,1085.00 202.00,1086.40 213.00,1086.40 213.00,1086.00 217.00,1086.00 217.00,1084.80 229.00,1084.80 229.00,1085.00 231.00,1085.00 231.00,1083.00 258.00,1083.00 258.00,1082.40 260.00,1082.40 260.00,1084.00 279.00,1084.00 279.00,1083.60 281.00,1083.60 281.00,1086.00 295.00,1086.00 295.00,1085.60 296.00,1085.60 296.00,1083.60 318.00,1083.60 318.00,1083.60 319.00,1083.60 319.00,1085.60 324.00,1085.60 324.00,1086.00 325.40,1086.00 325.40,1087.60 330.60,1087.60 330.60,1087.60 332.00,1087.60 332.00,1085.00 352.00,1085.00 352.00,1084.60 353.00,1084.60 353.00,1085.00 355.00,1085.00 355.00,1083.00 364.00,1083.00 364.00,1083.00 365.00,1083.00 365.00,1081.00 382.00,1081.00 382.00,1081.00 384.00,1081.00 384.00,1079.00 433.00,1079.00 433.00,1078.40 435.00,1078.40 435.00,1076.00 436.50,1076.00 436.50,1074.20 438.00,1074.20 438.00,1072.40 448.00,1072.40 448.00,1072.40 450.00,1072.40 450.00,1074.40 475.00,1074.40 475.00,1073.60 477.00,1073.60 477.00,1075.60 485.00,1075.60 485.00,1075.00 506.00,1075.00 506.00,1074.00 507.50,1074.00 507.50,1075.00 509.00,1075.00 509.00,1076.00 517.00,1076.00 517.00,1075.00 525.00,1075.00 525.00,1074.00 535.00,1074.00 535.00,1073.00 545.00,1073.00 545.00,1072.00 555.00,1072.00 555.00,1071.00 565.00,1071.00 565.00,1070.00 579.00,1070.00 579.00,1069.60 581.00,1069.60 581.00,1067.60 590.00,1067.60 590.00,1067.50 605.00,1067.50 605.00,1066.50 608.80,1066.50 608.80,1065.60 618.10,1065.60 618.10,1065.00 622.80,1065.00 622.80,1063.80 631.40,1063.80 631.40,1063.80 633.00,1063.80 633.00,1066.90 640.00,1066.90 640.00,1066.10 653.80,1066.10 653.80,1065.00" fill="none" stroke="#F8766D" stroke-width="2.5" stroke-linejoin="round" stroke-linecap="round"/>
<polyline points="85.60,1079.00 90.00,1079.00 90.00,1079.00 91.60,1079.00 91.60,1077.60 98.00,1077.60 98.00,1077.00 99.60,1077.00 99.60,1074.40 106.00,1074.40 106.00,1074.00 107.50,1074.00 107.50,1072.80 109.00,1072.80 109.00,1071.60 113.00,1071.60 113.00,1072.40 114.00,1072.40 114.00,1057.60 121.00,1057.60 121.00,1057.60 122.00,1057.60 122.00,1053.00 123.20,1053.00 123.20,1052.00 124.40,1052.00 124.40,1051.00 125.70,1051.00 125.70,1049.00 127.00,1049.00 127.00,1047.00 129.00,1047.00 129.00,1044.00 132.00,1044.00 132.00,1044.40 134.00,1044.40 134.00,1043.00 137.00,1043.00 137.00,1043.60 138.00,1043.60 138.00,1043.00 143.00,1043.00 143.00,1043.00 143.60,1043.00 143.60,1034.40 147.00,1034.40 147.00,1034.00 156.00,1034.00 156.00,1033.60 158.00,1033.60 158.00,1032.40 164.00,1032.40 164.00,1033.00 166.00,1033.00 166.00,1034.40 171.00,1034.40 171.00,1034.40 172.40,1034.40 172.40,1036.40 176.00,1036.40 176.00,1035.60 178.00,1035.60 178.00,1035.00 180.00,1035.00 180.00,1032.40 181.50,1032.40 181.50,1034.00 183.00,1034.00 183.00,1035.60 198.00,1035.60 198.00,1035.60 200.00,1035.60 200.00,1033.00 201.60,1033.00 201.60,1029.00 205.00,1029.00 205.00,1029.00 207.00,1029.00 207.00,1026.00 210.00,1026.00 210.00,1027.00 214.00,1027.00 214.00,1027.60 217.00,1027.60 217.00,1027.00 230.00,1027.00 230.00,1027.00 232.00,1027.00 232.00,1029.60 244.00,1029.60 244.00,1029.60 245.40,1029.60 245.40,1027.60 254.00,1027.60 254.00,1027.00 256.00,1027.00 256.00,1026.00 258.00,1026.00 258.00,1027.00 263.00,1027.00 263.00,1027.60 264.60,1027.60 264.60,1029.00 266.60,1029.00 266.60,1027.60 268.60,1027.60 268.60,1028.40 279.00,1028.40 279.00,1028.40 281.00,1028.40 281.00,1026.40 284.00,1026.40 284.00,1025.60 286.00,1025.60 286.00,1023.60 289.00,1023.60 289.00,1025.00 292.00,1025.00 292.00,1024.40 308.00,1024.40 308.00,1024.40 310.00,1024.40 310.00,1026.40 317.00,1026.40 317.00,1026.40 319.00,1026.40 319.00,1023.00 324.00,1023.00 324.00,1023.00 326.00,1023.00 326.00,1021.60 329.00,1021.60 329.00,1023.00 330.50,1023.00 330.50,1024.00 332.00,1024.00 332.00,1025.00 338.00,1025.00 338.00,1025.00 340.00,1025.00 340.00,1026.40 344.00,1026.40 344.00,1026.40 346.00,1026.40 346.00,1022.40 347.50,1022.40 347.50,1021.00 349.00,1021.00 349.00,1019.60 352.00,1019.60 352.00,1018.20 353.00,1018.20 353.00,1018.00 355.00,1018.00 355.00,1020.00 356.50,1020.00 356.50,1018.80 358.00,1018.80 358.00,1017.60 360.00,1017.60 360.00,1018.40 382.00,1018.40 382.00,1018.40 384.00,1018.40 384.00,1020.40 390.00,1020.40 390.00,1020.40 391.00,1020.40 391.00,1018.40 404.00,1018.40 404.00,1018.40 405.60,1018.40 405.60,1020.00 419.00,1020.00 419.00,1020.00 421.00,1020.00 421.00,1018.00 425.00,1018.00 425.00,1018.00 427.00,1018.00 427.00,1019.60 432.00,1019.60 432.00,1019.60 433.20,1019.60 433.20,1017.80 434.40,1017.80 434.40,1016.00 436.00,1016.00 436.00,1019.60 437.50,1019.60 437.50,1021.00 439.00,1021.00 439.00,1022.40 442.00,1022.40 442.00,1021.00 445.00,1021.00 445.00,1020.00 446.30,1020.00 446.30,1019.00 447.60,1019.00 447.60,1018.00 448.80,1018.00 448.80,1019.20 450.00,1019.20 450.00,1020.40 455.00,1020.40 455.00,1020.40 457.00,1020.40 457.00,1019.60 472.00,1019.60 472.00,1019.60 475.00,1019.60 475.00,1018.40 478.00,1018.40 478.00,1018.40 480.00,1018.40 480.00,1020.00 484.00,1020.00 484.00,1020.00 486.00,1020.00 486.00,1019.00 488.00,1019.00 488.00,1016.40 492.00,1016.40 492.00,1017.60 497.00,1017.60 497.00,1017.00 500.00,1017.00 500.00,1016.40 502.00,1016.40 502.00,1018.00 507.00,1018.00 507.00,1018.00 510.00,1018.00 510.00,1017.00 515.00,1017.00 515.00,1016.40 518.00,1016.40 518.00,1015.00 522.00,1015.00 522.00,1014.40 525.00,1014.40 525.00,1013.60 528.00,1013.60 528.00,1012.40 529.50,1012.40 529.50,1013.40 531.00,1013.40 531.00,1014.40 536.00,1014.40 536.00,1014.40 537.50,1014.40 537.50,1015.70 539.00,1015.70 539.00,1017.00 545.00,1017.00 545.00,1018.00 549.00,1018.00 549.00,1017.00 554.00,1017.00 554.00,1016.00 555.67,1016.00 555.67,1017.20 557.33,1017.20 557.33,1018.40 559.00,1018.40 559.00,1019.60 565.00,1019.60 565.00,1020.40 579.00,1020.40 579.00,1020.40 580.50,1020.40 580.50,1021.40 582.00,1021.40 582.00,1022.40 584.00,1022.40 584.00,1020.00 588.00,1020.00 588.00,1020.40 590.00,1020.40 590.00,1022.00 591.50,1022.00 591.50,1020.50 593.00,1020.50 593.00,1019.00 595.50,1019.00 595.50,1018.10 607.20,1018.10 607.20,1018.10 608.50,1018.10 608.50,1019.77 609.80,1019.77 609.80,1021.43 611.10,1021.43 611.10,1023.10 615.00,1023.10 615.00,1023.10 616.60,1023.10 616.60,1020.80 618.67,1020.80 618.67,1019.77 620.73,1019.77 620.73,1018.73 622.80,1018.73 622.80,1017.70 632.20,1017.70 632.20,1017.70 633.80,1017.70 633.80,1016.60 636.90,1016.60 636.90,1016.60 638.45,1016.60 638.45,1013.45 640.00,1013.45 640.00,1010.30 647.00,1010.30 647.00,1009.80 648.60,1009.80 648.60,1008.80 651.70,1008.80 651.70,1009.10 653.80,1009.10 653.80,1013.00" fill="none" stroke="#00BA38" stroke-width="2.5" stroke-linejoin="round" stroke-linecap="round"/>
<polyline points="85.60,863.60 90.00,863.60 90.00,863.60 91.60,863.60 91.60,865.00 98.00,865.00 98.00,865.60 99.00,865.60 99.00,867.00 106.00,867.00 106.00,867.60 108.00,867.60 108.00,869.60 113.00,869.60 113.00,869.60 114.00,869.60 114.00,884.00 121.00,884.00 121.00,884.40 122.00,884.40 122.00,888.00 124.40,888.00 124.40,889.60 126.00,889.60 126.00,892.40 127.60,892.40 127.60,894.40 129.00,894.40 129.00,897.60 132.00,897.60 132.00,897.00 135.00,897.00 135.00,898.40 137.00,898.40 137.00,898.00 138.00,898.00 138.00,899.00 143.00,899.00 143.00,899.00 143.60,899.00 143.60,903.60 145.30,903.60 145.30,904.80 147.00,904.80 147.00,906.00 156.00,906.00 156.00,906.40 157.00,906.40 157.00,908.00 159.00,908.00 159.00,907.00 165.00,907.00 165.00,907.00 166.00,907.00 166.00,906.00 171.60,906.00 171.60,906.00 173.00,906.00 173.00,911.60 177.00,911.60 177.00,913.00 178.50,913.00 178.50,914.50 180.00,914.50 180.00,916.00 197.00,916.00 197.00,916.00 199.00,916.00 199.00,918.00 201.00,918.00 201.00,921.00 205.00,921.00 205.00,921.60 207.00,921.60 207.00,924.40 210.00,924.40 210.00,923.60 215.00,923.60 215.00,923.50 217.00,923.50 217.00,925.00 231.00,925.00 231.00,925.00 232.60,925.00 232.60,924.00 244.00,924.00 244.00,924.40 245.40,924.40 245.40,926.40 254.00,926.40 254.00,927.00 257.00,927.00 257.00,928.40 258.50,928.40 258.50,927.20 260.00,927.20 260.00,926.00 262.00,926.00 262.00,925.00 264.00,925.00 264.00,924.00 267.00,924.00 267.00,925.00 269.00,925.00 269.00,924.00 281.00,924.00 281.00,924.00 284.00,924.00 284.00,925.00 285.00,925.00 285.00,927.00 289.00,927.00 289.00,926.00 292.00,926.00 292.00,926.40 295.00,926.40 295.00,927.00 296.00,927.00 296.00,929.00 309.00,929.00 309.00,929.00 310.60,929.00 310.60,927.60 318.00,927.60 318.00,927.60 319.00,927.60 319.00,928.40 326.00,928.40 326.00,928.40 328.00,928.40 328.00,927.00 339.00,927.00 339.00,927.00 340.60,927.00 340.60,925.00 344.00,925.00 344.00,925.60 346.00,925.60 346.00,929.60 347.50,929.60 347.50,930.80 349.00,930.80 349.00,932.00 352.00,932.00 352.00,933.40 355.00,933.40 355.00,933.60 357.00,933.60 357.00,936.00 360.00,936.00 360.00,935.00 363.00,935.00 363.00,935.00 365.00,935.00 365.00,937.00 389.00,937.00 389.00,937.00 391.00,937.00 391.00,939.00 404.00,939.00 404.00,939.00 406.00,939.00 406.00,937.60 420.00,937.60 420.00,937.60 421.60,937.60 421.60,939.60 426.00,939.60 426.00,940.00 428.00,940.00 428.00,938.40 432.00,938.40 432.00,938.40 434.00,938.40 434.00,941.60 441.00,941.60 441.00,942.40 442.40,942.40 442.40,944.00 446.00,944.00 446.00,944.40 447.60,944.40 447.60,946.00 448.80,946.00 448.80,944.20 450.00,944.20 450.00,942.40 455.00,942.40 455.00,942.40 457.00,942.40 457.00,943.00 472.00,943.00 472.00,943.00 475.00,943.00 475.00,944.00 477.50,944.00 477.50,942.80 480.00,942.80 480.00,941.60 484.00,941.60 484.00,942.00 487.00,942.00 487.00,943.50 488.00,943.50 488.00,945.00 492.00,945.00 492.00,945.00 494.00,945.00 494.00,943.60 498.00,943.60 498.00,945.00 500.00,945.00 500.00,946.00 502.00,946.00 502.00,944.40 507.00,944.40 507.00,944.40 509.00,944.40 509.00,943.00 514.00,943.00 514.00,943.00 516.00,943.00 516.00,945.00 521.00,945.00 521.00,946.40 524.00,946.40 524.00,948.00 525.50,948.00 525.50,949.00 527.00,949.00 527.00,950.00 530.00,950.00 530.00,948.40 535.00,948.40 535.00,948.40 537.00,948.40 537.00,949.60 539.00,949.60 539.00,947.00 545.00,947.00 545.00,946.40 548.00,946.40 548.00,946.00 550.00,946.00 550.00,948.00 554.00,948.00 554.00,948.00 556.00,948.00 556.00,949.60 557.50,949.60 557.50,948.00 559.00,948.00 559.00,946.40 565.00,946.40 565.00,946.00 567.00,946.00 567.00,947.00 583.00,947.00 583.00,947.00 584.00,947.00 584.00,949.60 588.00,949.60 588.00,949.60 589.00,949.60 589.00,948.00 592.30,948.00 592.30,948.10 593.50,948.10 593.50,950.05 594.70,950.05 594.70,952.00 608.00,952.00 608.00,952.00 609.55,952.00 609.55,950.05 611.10,950.05 611.10,948.10 615.00,948.10 615.00,948.10 616.15,948.10 616.15,949.70 617.30,949.70 617.30,951.30 618.87,951.30 618.87,952.43 620.43,952.43 620.43,953.57 622.00,953.57 622.00,954.70 631.40,954.70 631.40,954.70 633.00,954.70 633.00,953.10 636.90,953.10 636.90,953.10 638.45,953.10 638.45,957.00 640.00,957.00 640.00,960.90 647.00,960.90 647.00,960.90 648.20,960.90 648.20,961.95 649.40,961.95 649.40,963.00 651.70,963.00 651.70,962.20 653.80,962.20 653.80,959.80" fill="none" stroke="#619CFF" stroke-width="2.5" stroke-linejoin="round" stroke-linecap="round"/>
</svg>
</body></html>
